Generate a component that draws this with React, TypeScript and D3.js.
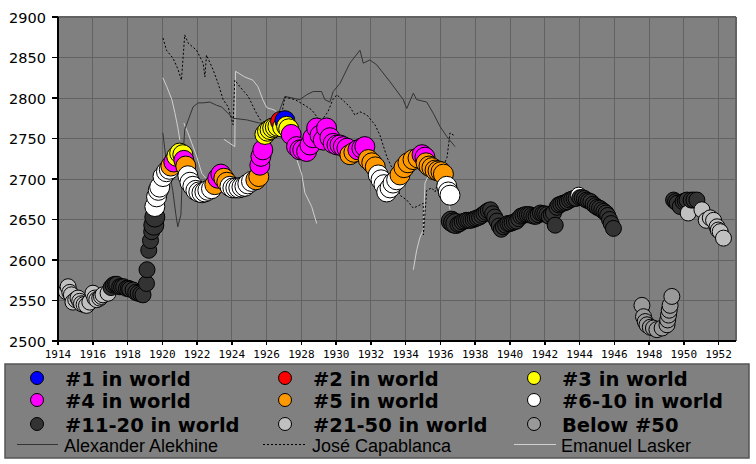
import React from 'react';
import * as d3 from 'd3';

// ---------- DATA ----------
const xTickYears = d3.range(1914, 1953, 2);
const yTickValues = [2500, 2550, 2600, 2650, 2700, 2750, 2800, 2850, 2900];

const rankLabels = ['#1 in world', '#2 in world', '#3 in world', '#4 in world', '#5 in world',
  '#6-10 in world', '#11-20 in world', '#21-50 in world', 'Below #50'];
const rankColors = ['#0000ff', '#ff0000', '#ffff00', '#ff00ff', '#ff9900',
  '#ffffff', '#333333', '#c0c0c0', '#999999'];

// Rating circles: [year, rating, rank index]
const circles: [number, number, number][] = [
  // #21-50
  [1914.48, 2561, 7], [1914.58, 2567, 7], [1914.68, 2560, 7], [1914.77, 2557, 7], [1914.86, 2548, 7], [1915.02, 2551, 7],
  [1915.15, 2553, 7], [1915.25, 2549, 7], [1915.35, 2546, 7], [1915.5, 2545, 7], [1915.64, 2544, 7], [1915.83, 2548, 7],
  [1916.01, 2559, 7], [1916.12, 2553, 7], [1916.23, 2551, 7], [1916.40, 2553, 7], [1916.5, 2555, 7], [1916.59, 2557, 7], [1916.88, 2559, 7],
  // #11-20
  [1917.05, 2566, 6], [1917.17, 2569, 6], [1917.28, 2570, 6], [1917.38, 2570, 6], [1917.55, 2567, 6], [1917.66, 2567, 6],
  [1917.78, 2567, 6], [1917.94, 2565, 6], [1918.05, 2565, 6], [1918.13, 2564, 6], [1918.32, 2563, 6], [1918.47, 2560, 6],
  [1918.61, 2559, 6], [1918.76, 2558, 6], [1918.89, 2557, 6], [1919.09, 2571, 6], [1919.12, 2588, 6], [1919.22, 2612, 6],
  [1919.32, 2624, 6], [1919.39, 2635, 6], [1919.51, 2643, 6], [1919.57, 2653, 6],
  // rise to top-10
  [1919.57, 2666, 5], [1919.67, 2678, 5], [1919.77, 2686, 5], [1919.85, 2690, 5], [1920.04, 2703, 5], [1920.24, 2709, 5], [1920.40, 2712, 5],
  [1920.49, 2716, 4], [1920.66, 2721, 3], [1920.83, 2728, 2], [1921.00, 2732, 2], [1921.18, 2730, 2], [1921.24, 2723, 3], [1921.35, 2716, 4],
  [1921.47, 2704, 5], [1921.59, 2696, 5], [1921.76, 2691, 5], [1921.93, 2686, 5], [1922.10, 2684, 5], [1922.28, 2683, 5],
  [1922.45, 2684, 5], [1922.62, 2686, 5], [1922.83, 2688, 5],
  [1923.02, 2693, 4], [1923.19, 2701, 3], [1923.37, 2706, 3], [1923.54, 2701, 4], [1923.71, 2696, 4],
  [1923.89, 2691, 5], [1924.06, 2689, 5], [1924.23, 2689, 5], [1924.40, 2689, 5], [1924.58, 2690, 5], [1924.75, 2691, 5],
  [1924.92, 2694, 5], [1925.13, 2697, 5],
  [1925.38, 2699, 4], [1925.55, 2703, 4], [1925.61, 2717, 3], [1925.67, 2728, 3], [1925.78, 2736, 3],
  [1925.90, 2755, 2], [1926.05, 2759, 2], [1926.20, 2761, 2], [1926.35, 2763, 2], [1926.50, 2764, 2], [1926.65, 2765, 2],
  [1926.80, 2771, 1], [1926.92, 2764, 2], [1927.05, 2772, 0], [1927.15, 2765, 2], [1927.27, 2762, 2],
  [1927.41, 2755, 3], [1927.72, 2740, 3], [1927.91, 2736, 3], [1928.08, 2736, 3], [1928.30, 2734, 3], [1928.49, 2742, 3],
  [1928.66, 2751, 3], [1928.88, 2763, 3], [1929.07, 2754, 3], [1929.26, 2748, 3], [1929.45, 2763, 3], [1929.64, 2751, 3],
  [1929.83, 2744, 3], [1930.05, 2742, 3], [1930.22, 2742, 3], [1930.41, 2740, 3], [1930.62, 2738, 3],
  [1930.79, 2730, 4], [1931.02, 2733, 4], [1931.25, 2736, 3], [1931.48, 2738, 3], [1931.65, 2740, 3],
  [1931.85, 2724, 4], [1932.05, 2720, 4], [1932.25, 2715, 4],
  [1932.42, 2705, 5], [1932.58, 2699, 5], [1932.75, 2693, 5], [1932.91, 2684, 5], [1933.10, 2689, 5], [1933.27, 2695, 5], [1933.48, 2699, 5],
  [1933.67, 2705, 4], [1933.90, 2714, 4], [1934.13, 2720, 4], [1934.42, 2724, 4], [1934.71, 2726, 4], [1934.94, 2730, 3],
  [1935.11, 2727, 3], [1935.17, 2720, 4], [1935.34, 2716, 4], [1935.51, 2714, 4], [1935.69, 2711, 4], [1935.86, 2710, 4],
  [1936.03, 2709, 4], [1936.17, 2706, 4],
  [1936.36, 2691, 5], [1936.45, 2684, 5], [1936.55, 2680, 5],
  // #11-20 1936-1946
  [1936.62, 2648, 6], [1936.75, 2646, 6], [1936.88, 2645, 6], [1937.0, 2644, 6], [1937.12, 2645, 6], [1937.25, 2647, 6],
  [1937.38, 2648, 6], [1937.5, 2649, 6], [1937.62, 2649, 6], [1937.75, 2649, 6], [1937.88, 2650, 6], [1938.0, 2651, 6],
  [1938.12, 2652, 6], [1938.25, 2653, 6], [1938.38, 2655, 6], [1938.5, 2657, 6], [1938.62, 2659, 6], [1938.75, 2661, 6],
  [1938.88, 2662, 6], [1939.0, 2657, 6], [1939.12, 2653, 6], [1939.25, 2648, 6], [1939.38, 2642, 6], [1939.5, 2638, 6],
  [1939.62, 2641, 6], [1939.75, 2643, 6], [1939.88, 2645, 6], [1940.0, 2645, 6], [1940.12, 2646, 6], [1940.25, 2647, 6],
  [1940.38, 2648, 6], [1940.5, 2651, 6], [1940.62, 2654, 6], [1940.75, 2655, 6], [1940.88, 2656, 6], [1941.0, 2656, 6],
  [1941.12, 2656, 6], [1941.25, 2655, 6], [1941.38, 2654, 6], [1941.5, 2654, 6], [1941.62, 2656, 6], [1941.75, 2658, 6],
  [1941.88, 2657, 6], [1942.0, 2657, 6], [1942.12, 2656, 6], [1942.25, 2654, 6], [1942.38, 2656, 6], [1942.5, 2658, 6],
  [1942.6, 2643, 6], [1942.7, 2665, 6], [1942.8, 2668, 6], [1942.92, 2669, 6], [1943.05, 2670, 6], [1943.18, 2671, 6],
  [1943.3, 2672, 6], [1943.42, 2674, 6], [1943.55, 2675, 6], [1943.68, 2676, 6], [1943.8, 2676, 6], [1943.95, 2680, 5],
  [1944.02, 2677, 6], [1944.15, 2677, 6], [1944.28, 2676, 6], [1944.4, 2674, 6], [1944.52, 2673, 6], [1944.65, 2672, 6],
  [1944.78, 2669, 6], [1944.9, 2667, 6], [1945.02, 2665, 6], [1945.15, 2664, 6], [1945.28, 2662, 6], [1945.4, 2660, 6],
  [1945.52, 2658, 6], [1945.62, 2655, 6], [1945.72, 2650, 6], [1945.82, 2645, 6], [1945.95, 2639, 6],
  // below #50
  [1947.59, 2544, 8], [1947.68, 2530, 8], [1947.78, 2524, 8], [1947.88, 2520, 8], [1948.07, 2517, 8], [1948.25, 2516, 8],
  [1948.45, 2514, 8], [1948.75, 2516, 8], [1949.03, 2520, 8], [1949.07, 2526, 8], [1949.12, 2532, 8], [1949.16, 2538, 8],
  [1949.21, 2544, 8], [1949.31, 2555, 8],
  // 1949-1952
  [1949.41, 2674, 6], [1949.52, 2672, 6], [1949.62, 2670, 6], [1949.79, 2666, 6], [1949.96, 2672, 6], [1950.08, 2673, 6],
  [1950.18, 2674, 6], [1950.25, 2658, 7], [1950.42, 2674, 6], [1950.58, 2674, 6], [1950.75, 2674, 6],
  [1951.04, 2662, 7], [1951.29, 2649, 7], [1951.52, 2652, 7], [1951.71, 2649, 7], [1951.91, 2641, 7], [1951.98, 2637, 7],
  [1952.09, 2635, 7], [1952.28, 2627, 7],
];

// Rival rating lines [year, rating]; NaN rating = gap
const alekhine: [number, number][] = [
  [1920.03, 2757], [1920.20, 2727], [1920.43, 2705], [1920.60, 2686], [1920.78, 2656], [1920.89, 2641],
  [1921.07, 2656], [1921.12, 2686], [1921.18, 2724], [1921.29, 2761], [1921.77, 2789], [1922.06, 2794],
  [1922.35, 2794], [1922.73, 2795], [1923.12, 2791], [1923.41, 2789], [1924.07, 2775], [1924.85, 2773],
  [1925.61, 2769], [1926.19, 2770], [1926.65, 2779], [1927.05, 2802], [1927.91, 2798], [1928.30, 2804],
  [1928.68, 2808], [1929.16, 2808], [1929.35, 2798], [1929.64, 2795], [1929.83, 2808], [1930.22, 2818],
  [1930.79, 2843], [1931.37, 2859], [1931.56, 2843], [1931.94, 2847], [1932.33, 2841], [1933.10, 2820],
  [1933.86, 2798], [1934.06, 2787], [1934.44, 2806], [1934.63, 2798], [1935.21, 2795], [1935.59, 2781],
  [1935.97, 2765], [1936.38, 2752], [1936.84, 2740],
];
const capablanca: [number, number][] = [
  [1920.04, 2874], [1920.24, 2859], [1920.62, 2849], [1920.91, 2835], [1921.10, 2822], [1921.29, 2878],
  [1921.48, 2868], [1921.97, 2859], [1922.35, 2843], [1922.45, 2826], [1922.54, 2853], [1922.92, 2835],
  [1923.21, 2818], [1923.50, 2798], [1923.79, 2789], [1924.07, 2767], [1924.17, 2822], [1924.46, 2814],
  [1924.94, 2802], [1925.42, 2781], [1925.73, 2770], [1926.19, 2763], [1926.76, 2767], [1927.05, 2801],
  [1927.63, 2798], [1928.20, 2791], [1928.61, 2785], [1928.95, 2775], [1929.18, 2773], [1929.53, 2783],
  [1929.81, 2798], [1930.04, 2804], [1930.50, 2795], [1930.79, 2789], [1931.08, 2779], [1931.37, 2783],
  [1931.77, 2779], [1932.23, 2767], [1932.52, 2754], [1932.92, 2727], [1933.27, 2711], [1933.67, 2680],
  [1934.06, 2674], [1934.44, 2664], [1934.82, 2668], [1935.01, 2670], [1935.02, 2631], [1935.21, 2686],
  [1935.50, 2689], [1935.69, 2684], [1935.97, 2705], [1936.38, 2727], [1936.55, 2757], [1936.84, 2753],
];
const lasker: [number, number][] = [
  [1920.03, 2825], [1920.26, 2814], [1920.55, 2798], [1920.72, 2782], [1920.89, 2764], [1921.01, 2748],
  [1921.10, NaN],
  [1921.24, 2769], [1921.47, 2757], [1921.70, 2744], [1921.99, 2727], [1922.27, 2707], [1922.50, 2701],
  [1923.00, NaN],
  [1923.54, 2749], [1924.17, 2740], [1924.21, 2833], [1924.74, 2826], [1925.21, 2822], [1925.50, 2814],
  [1925.78, 2798], [1926.01, 2788], [1926.47, 2785], [1926.93, 2773], [1927.34, 2748], [1927.74, 2724],
  [1928.03, 2705], [1928.20, 2683], [1928.59, 2666], [1928.88, 2645],
  [1930.00, NaN],
  [1934.44, 2588], [1934.63, 2612], [1934.82, 2628], [1935.01, 2637], [1935.11, 2695], [1935.40, 2709],
  [1935.97, 2699], [1936.43, 2674], [1936.55, 2662],
];

const lineLabels = ['Alexander Alekhine', 'José Capablanca', 'Emanuel Lasker'];

// ---------- CHART ----------
const W = 756, H = 464;
const PL = 58, PR = 736, PT = 17, PB = 341;

export default function App() {
  const x = d3.scaleLinear().domain([1914, 1953]).range([PL, PR]);
  const y = d3.scaleLinear().domain([2500, 2900]).range([PB, PT]);
  const line = d3.line<[number, number]>()
    .defined(d => !isNaN(d[1]))
    .x(d => x(d[0]))
    .y(d => y(d[1]));

  const legendCols = [37, 285, 534];
  const legendTextX = [65, 313, 562];
  const legendRowY = [378, 400, 424];
  const lineSampleX = [[17, 58], [263, 305], [514, 556]];
  const lineStyles = [
    { stroke: '#333333', dash: undefined as string | undefined },
    { stroke: '#000000', dash: '2,2' },
    { stroke: '#d0d0d0', dash: undefined },
  ];

  return (
    <svg width={W} height={H} style={{ position: 'absolute', left: 0, top: 0, background: '#fff' }}>
      <rect x={0} y={0} width={W} height={H} fill="#ffffff" />
      <rect x={PL} y={PT} width={PR - PL} height={PB - PT} fill="#808080" />
      <g stroke="#626262" strokeWidth={1} shapeRendering="crispEdges">
        {xTickYears.map(t => (
          <line key={'gx' + t} x1={x(t)} x2={x(t)} y1={PT} y2={PB} />
        ))}
        {yTickValues.map(t => (
          <line key={'gy' + t} x1={PL} x2={PR} y1={y(t)} y2={y(t)} />
        ))}
        <line x1={PL} x2={PR} y1={PT} y2={PT} strokeWidth={2} />
        <line x1={PR} x2={PR} y1={PT} y2={PB} strokeWidth={2} />
      </g>
      <path d={line(lasker) || ''} fill="none" stroke="#d0d0d0" strokeWidth={1} />
      <path d={line(alekhine) || ''} fill="none" stroke="#333333" strokeWidth={1} />
      <path d={line(capablanca) || ''} fill="none" stroke="#000000" strokeWidth={1} strokeDasharray="2,2" />
      <g stroke="#000" strokeWidth={1}>
        {circles.map(([yr, rt, rk], i) => (
          <circle key={'c' + i} cx={x(yr)} cy={y(rt)}
            r={yr >= 1919.5 && yr < 1937 ? 10 : 8}
            fill={rankColors[rk]} />
        ))}
      </g>
      <g stroke="#000" strokeWidth={1.5} shapeRendering="crispEdges">
        <line x1={PL} x2={PL} y1={PT} y2={PB + 1} />
        <line x1={PL} x2={PR} y1={PB} y2={PB} />
        {yTickValues.map(t => (
          <line key={'ty' + t} x1={PL - 6} x2={PL} y1={y(t)} y2={y(t)} />
        ))}
        {xTickYears.map(t => (
          <line key={'tx' + t} x1={x(t)} x2={x(t)} y1={PB} y2={PB + 4} />
        ))}
      </g>
      <g fontFamily="DejaVu Sans" fontSize={14.5} fill="#000" textAnchor="end">
        {yTickValues.map(t => (
          <text key={'ly' + t} x={46} y={y(t) + 5.5}>{t}</text>
        ))}
      </g>
      <g fontFamily="DejaVu Sans Mono" fontSize={11} fill="#000" textAnchor="middle">
        {xTickYears.map(t => (
          <text key={'lx' + t} x={x(t)} y={358}>{t}</text>
        ))}
      </g>
      <rect x={5} y={364} width={744} height={94} fill="#808080" stroke="#555" strokeWidth={1.5} />
      {rankLabels.map((lab, i) => {
        const col = i % 3, row = Math.floor(i / 3);
        return (
          <g key={'lg' + i}>
            <circle cx={legendCols[col]} cy={legendRowY[row]} r={6.5} fill={rankColors[i]} stroke="#000" strokeWidth={1} />
            <text x={legendTextX[col]} y={legendRowY[row] + 7.5} fontFamily="DejaVu Sans" fontWeight="bold" fontSize={19.5} fill="#000">{lab}</text>
          </g>
        );
      })}
      {lineLabels.map((lab, i) => (
        <g key={'ll' + i}>
          <line x1={lineSampleX[i][0]} x2={lineSampleX[i][1]} y1={444.5} y2={444.5}
            stroke={lineStyles[i].stroke} strokeWidth={1} strokeDasharray={lineStyles[i].dash} />
          <text x={legendTextX[i] - 1} y={451.5} fontFamily="Liberation Sans" fontSize={18} fill="#000">{lab}</text>
        </g>
      ))}
    </svg>
  );
}
